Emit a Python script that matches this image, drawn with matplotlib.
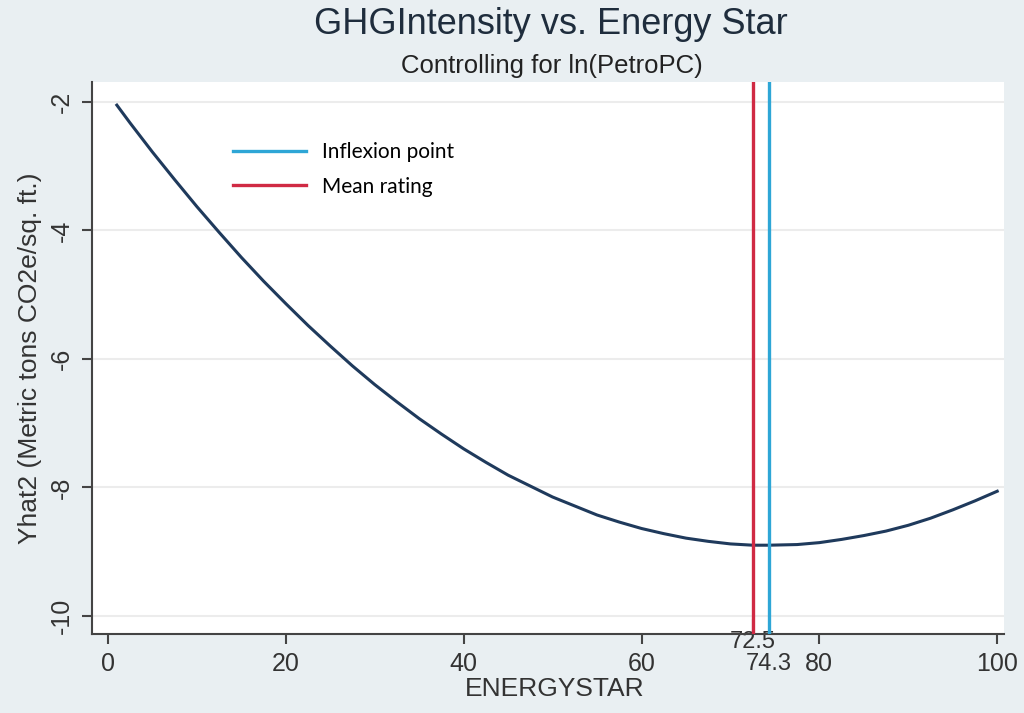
import matplotlib
matplotlib.use("Agg")
import matplotlib.pyplot as plt
from matplotlib.ticker import FixedLocator, FixedFormatter

plt.rcParams["font.family"] = ["Liberation Sans", "DejaVu Sans"]

# readings from the fitted curve (ENERGYSTAR vs Yhat2)
energystar = [1, 2.5, 5, 7.5, 10, 12.5, 15, 17.5, 20, 22.5, 25, 27.5, 30, 32.5, 35, 37.5,
              40, 42.5, 45, 47.5, 50, 52.5, 55, 57.5, 60, 62.5, 65, 67.5, 70, 72.5, 74.3,
              77.5, 80, 82.5, 85, 87.5, 90, 92.5, 95, 97.5, 100]
yhat2 = [-2.05, -2.33, -2.78, -3.21, -3.63, -4.03, -4.42, -4.79, -5.14, -5.48, -5.80, -6.11,
         -6.40, -6.67, -6.93, -7.17, -7.40, -7.61, -7.81, -7.98, -8.15, -8.29, -8.43, -8.54,
         -8.64, -8.72, -8.79, -8.84, -8.88, -8.90, -8.90, -8.89, -8.86, -8.81, -8.75, -8.68,
         -8.59, -8.48, -8.35, -8.21, -8.06]

inflexion = 74.3
mean_rating = 72.5

xticks = [0, 20, 40, 60, 80, 100]
yticks = [-10, -8, -6, -4, -2]

bg = "#e9eff2"
navy = "#1f3a5c"
red = "#d02a44"
blue = "#2ea6d6"

fig = plt.figure(figsize=(10.24, 7.13), dpi=100, facecolor=bg)
ax = fig.add_axes([0.0898, 0.111, 0.891, 0.774])
ax.set_facecolor("white")

ax.plot(energystar, yhat2, color=navy, lw=2.2, zorder=3)
ax.axvline(inflexion, color=blue, lw=2.4, label="Inflexion point", zorder=4)
ax.axvline(mean_rating, color=red, lw=2.4, label="Mean rating", zorder=4)

ax.set_xlim(-1.8, 100.8)
ax.set_ylim(-10.28, -1.69)

ax.set_yticks(yticks)
ax.set_yticklabels([str(v) for v in yticks], rotation=90, va="center")
ax.set_xticks(xticks)
ax.set_xticklabels([str(v) for v in xticks])
ax.grid(axis="y", color="#ececec", lw=1.5)
ax.set_axisbelow(True)

# inflexion value as an extra label below the axis
ax.xaxis.set_minor_locator(FixedLocator([inflexion]))
ax.xaxis.set_minor_formatter(FixedFormatter([str(inflexion)]))
ax.tick_params(axis="x", which="minor", length=0, pad=14, labelsize=17, labelcolor="#333333")

# mean rating label, tick pointing inward
sec = ax.secondary_xaxis("bottom")
sec.set_xticks([mean_rating])
sec.set_xticklabels([str(mean_rating)])
sec.tick_params(direction="in", length=11, width=1.5, color="#333333", pad=-2,
                labelsize=17, labelcolor="#333333")
sec.spines["bottom"].set_visible(False)

for s in ["top", "right"]:
    ax.spines[s].set_visible(False)
for s in ["left", "bottom"]:
    ax.spines[s].set_color("#444444")
    ax.spines[s].set_linewidth(1.5)
ax.tick_params(axis="both", which="major", direction="out", length=7, width=1.5,
               color="#444444", labelsize=18, labelcolor="#333333")
ax.tick_params(axis="x", which="major", pad=6)
ax.tick_params(axis="y", which="major", pad=6)

ax.set_xlabel("ENERGYSTAR", fontsize=19, color="#333333", labelpad=1)
ax.xaxis.label.set_x(0.507)
ax.set_ylabel("Yhat2 (Metric tons CO2e/sq. ft.)", fontsize=19, color="#333333", labelpad=6)

fig.text(0.538, 0.966, "GHGIntensity vs. Energy Star", ha="center", va="center",
         fontsize=26, color="#1f2d3d")
fig.text(0.539, 0.908, "Controlling for ln(PetroPC)", ha="center", va="center",
         fontsize=18.5, color="#222222")

ax.legend(loc="upper left", bbox_to_anchor=(0.143, 0.91), frameon=False,
          prop={"family": "Lato", "size": 15}, handlelength=3.5,
          handletextpad=0.8, labelspacing=0.7, borderpad=0)

fig.savefig("out.png", dpi=100, facecolor=bg)
